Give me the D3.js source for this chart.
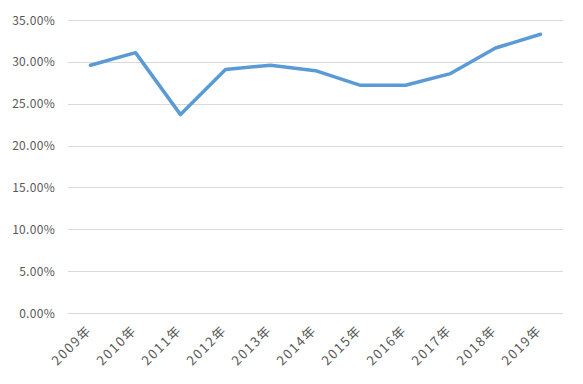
<!DOCTYPE html>
<html><head><meta charset="utf-8">
<script src="https://cdn.jsdelivr.net/npm/d3@7"></script>
<style>body{margin:0;background:#fff}svg{display:block}</style>
</head><body>
<svg id="c" width="583" height="384"></svg>
<script>
const categories = ["2009年","2010年","2011年","2012年","2013年","2014年","2015年","2016年","2017年","2018年","2019年"];
const values = [29.6, 31.1, 23.7, 29.1, 29.6, 28.95, 27.2, 27.2, 28.6, 31.65, 33.3];
const yTicks = [0,5,10,15,20,25,30,35];

(function(){
const svg = d3.select("#c");
const mLeft = 68, mRight = 563, mTop = 20, mBottom = 313;
const x = d3.scaleBand().domain(categories).range([mLeft, mRight]);
const y = d3.scaleLinear().domain([0,35]).range([mBottom, mTop]);
const font = "'Noto Sans CJK JP', 'DejaVu Sans', sans-serif";

svg.append("g").selectAll("line").data(yTicks).join("line")
  .attr("x1", mLeft).attr("x2", mRight)
  .attr("y1", d => Math.round(y(d)) + 0.5).attr("y2", d => Math.round(y(d)) + 0.5)
  .attr("stroke", "#d9d9d9").attr("stroke-width", 1);

svg.append("g").selectAll("text").data(yTicks).join("text")
  .attr("x", 55).attr("y", d => y(d) + 4.5)
  .attr("text-anchor", "end")
  .attr("font-family", font).attr("font-size", 12).attr("fill", "#595959")
  .attr("letter-spacing", "0.3px")
  .text(d => d.toFixed(2) + "%");

svg.append("g").selectAll("text").data(categories).join("text")
  .attr("transform", d => `translate(${x(d) + x.bandwidth()/2 + 2},${mBottom + 18}) rotate(-45)`)
  .attr("text-anchor", "end")
  .attr("font-family", font).attr("font-size", 13).attr("fill", "#595959")
  .attr("letter-spacing", "1.6px")
  .text(d => d);

const line = d3.line().x((d,i) => x(categories[i]) + x.bandwidth()/2).y(d => y(d));
svg.append("path").datum(values)
  .attr("d", line).attr("fill", "none")
  .attr("stroke", "#5B9BD5").attr("stroke-width", 3.5)
  .attr("stroke-linejoin", "round").attr("stroke-linecap", "round");
})();
</script>
</body></html>
